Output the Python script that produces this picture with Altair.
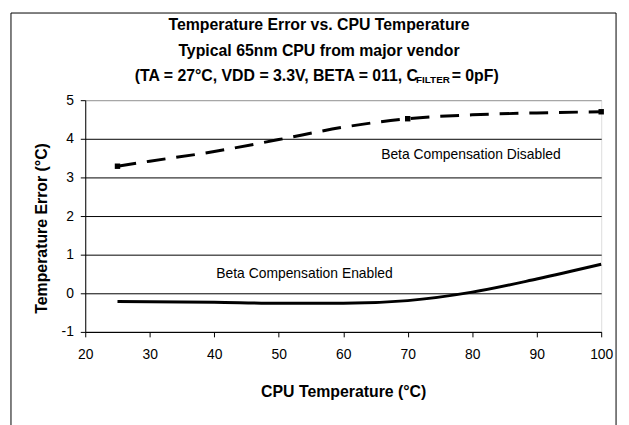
import altair as alt
import pandas as pd

# ---- data ----
temps_disabled = [25, 30, 40, 50, 60, 70, 80, 90, 100]
err_disabled = [3.29, 3.42, 3.67, 3.98, 4.30, 4.52, 4.62, 4.67, 4.70]
temps_enabled = [25, 40, 50, 60, 70, 80, 90, 100]
err_enabled = [-0.21, -0.23, -0.26, -0.26, -0.19, 0.03, 0.37, 0.75]
marker_temps = [25, 70, 100]

x_ticks = [20, 30, 40, 50, 60, 70, 80, 90, 100]
y_ticks = [-1, 0, 1, 2, 3, 4, 5]

title_lines = [
    "Temperature Error vs. CPU Temperature",
    "Typical 65nm CPU from major vendor",
]
title3_main = "(TA = 27°C, VDD = 3.3V, BETA = 011, C"
title3_sub = "FILTER"
title3_end = " = 0pF)"

labels_text = ["Beta Compensation Disabled", "Beta Compensation Enabled"]
labels_x = [79.8, 54.0]
labels_y = [3.58, 0.5]

# ---- tables ----
df_dis = pd.DataFrame({"t": temps_disabled, "e": err_disabled})
df_en = pd.DataFrame({"t": temps_enabled, "e": err_enabled})
df_mark = df_dis[df_dis["t"].isin(marker_temps)]
df_lab = pd.DataFrame({"t": labels_x, "e": labels_y, "txt": labels_text})

W, H = 521, 234
FONT = "Liberation Sans"

xscale = alt.Scale(domain=[20, 100], nice=False)
yscale = alt.Scale(domain=[-1, 5], nice=False)

xaxis = alt.Axis(
    values=x_ticks, tickCount=len(x_ticks), title="CPU Temperature (°C)", grid=False,
    domainColor="black", tickColor="black", tickSize=5, labelPadding=11,
    labelFont=FONT, labelFontSize=14, labelColor="black", labelFlush=False,
    labelOverlap=False,
    titleFont=FONT, titleFontSize=16, titleFontWeight="bold", titleColor="black",
    titleY=60, titleBaseline="middle",
)
yaxis = alt.Axis(
    values=y_ticks, tickCount=len(y_ticks), title="Temperature Error (°C)", grid=True,
    gridColor={"condition": {"test": "datum.value == 5", "value": "#999999"}, "value": "black"},
    gridWidth=1,
    domainColor="black", tickColor="black", tickSize=5, labelPadding=7,
    labelFont=FONT, labelFontSize=14, labelColor="black", labelOverlap=False,
    labelExpr="toString(datum.value)",
    titleFont=FONT, titleFontSize=16, titleFontWeight="bold", titleColor="black",
    titleX=-44, titleY=H / 2 + 12, titleBaseline="middle", titleAlign="center", titleAngle=270,
)

base_x = alt.X("t:Q", scale=xscale, axis=xaxis)
base_y = alt.Y("e:Q", scale=yscale, axis=yaxis)

line_dis = alt.Chart(df_dis).mark_line(
    color="black", strokeWidth=3, strokeDash=[19, 11], interpolate="monotone"
).encode(x=base_x, y=base_y)

marks = alt.Chart(df_mark).mark_point(
    shape="square", filled=True, color="black", size=30, opacity=1
).encode(x=alt.X("t:Q", scale=xscale), y=alt.Y("e:Q", scale=yscale))

line_en = alt.Chart(df_en).mark_line(
    color="black", strokeWidth=3, interpolate="monotone"
).encode(x=alt.X("t:Q", scale=xscale), y=alt.Y("e:Q", scale=yscale))

labels = alt.Chart(df_lab).mark_text(
    font=FONT, fontSize=14, color="black", align="center", baseline="middle"
).encode(x=alt.X("t:Q", scale=xscale), y=alt.Y("e:Q", scale=yscale), text="txt:N")

one = pd.DataFrame({"a": [0]})
CX = 236  # title centre relative to plot origin
t1 = alt.Chart(one).mark_text(
    text=title_lines[0], font=FONT, fontSize=16, fontWeight="bold", color="black",
    align="center", baseline="middle"
).encode(x=alt.value(CX), y=alt.value(-76))
t2 = alt.Chart(one).mark_text(
    text=title_lines[1], font=FONT, fontSize=16, fontWeight="bold", color="black",
    align="center", baseline="middle"
).encode(x=alt.value(CX), y=alt.value(-50))

w_main, w_sub, w_end = 283, 37, 52
x0 = CX - (w_main + w_sub + w_end) / 2
t3a = alt.Chart(one).mark_text(
    text=title3_main, font=FONT, fontSize=16, fontWeight="bold", color="black",
    align="left", baseline="middle"
).encode(x=alt.value(x0), y=alt.value(-24))
t3b = alt.Chart(one).mark_text(
    text=title3_sub, font=FONT, fontSize=10, fontWeight="bold", color="black",
    align="left", baseline="middle"
).encode(x=alt.value(x0 + w_main + 1), y=alt.value(-20))
t3c = alt.Chart(one).mark_text(
    text=title3_end, font=FONT, fontSize=16, fontWeight="bold", color="black",
    align="left", baseline="middle"
).encode(x=alt.value(x0 + w_main + w_sub), y=alt.value(-24))

frame = alt.Chart(one).mark_rect(
    fillOpacity=0, stroke="black", strokeWidth=1
).encode(x=alt.value(-75), x2=alt.value(536), y=alt.value(-88), y2=alt.value(H + 100))

chart = alt.layer(
    line_dis, line_en, marks, labels, t1, t2, t3a, t3b, t3c, frame
).properties(
    width=W, height=H,
    autosize=alt.AutoSizeParams(type="none"),
    padding={"left": 78, "top": 91, "right": 20, "bottom": 100},
).configure_view(
    stroke="#999999", strokeWidth=1
).configure(background="white")

chart.save("out.html", embed_options={"renderer": "svg", "actions": False})
